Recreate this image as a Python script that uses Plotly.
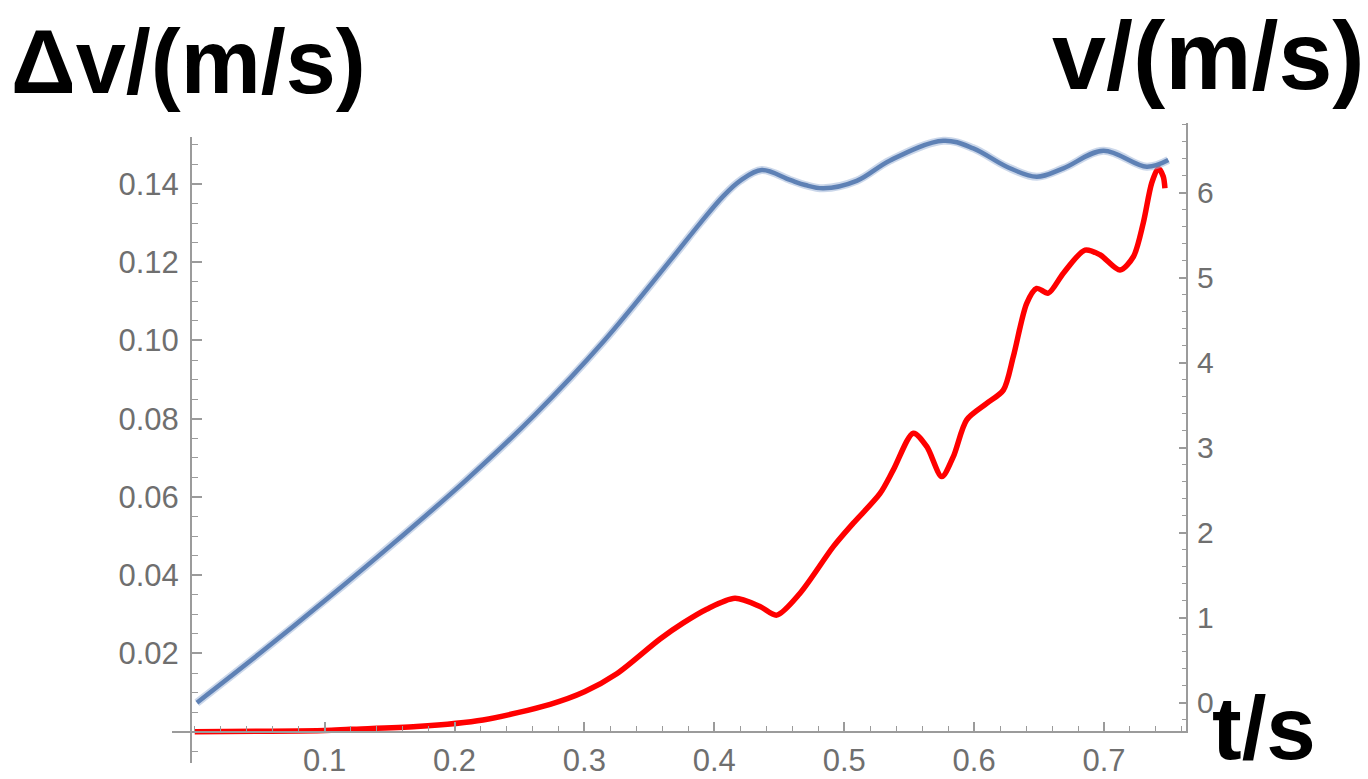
import plotly.graph_objects as go

# time samples and velocity v (right axis, m/s)
t_v = [0.0017, 0.0494, 0.1024, 0.1554, 0.2085, 0.2615, 0.3145, 0.3675, 0.3890,
       0.4069, 0.4198, 0.4365, 0.4583, 0.4700, 0.4839, 0.5096, 0.5353, 0.5763, 0.5994,
       0.6251, 0.6482, 0.6687, 0.6995, 0.7329, 0.7495]
v_vals = [0.0, 0.572, 1.229, 1.907, 2.613, 3.382, 4.246, 5.230, 5.640,
          5.960, 6.140, 6.267, 6.150, 6.090, 6.052, 6.140, 6.380, 6.612, 6.522,
          6.306, 6.188, 6.287, 6.494, 6.306, 6.385]

# time samples and velocity difference Δv (left axis, m/s)
t_dv = [0.0, 0.05, 0.10, 0.1196, 0.1709, 0.2219, 0.2736, 0.30, 0.3249, 0.3582,
        0.3761, 0.3941, 0.4159, 0.4352, 0.4480, 0.4660, 0.4916, 0.5070, 0.5276,
        0.5378, 0.5532, 0.5635, 0.5751, 0.5840, 0.5943, 0.6097, 0.6225, 0.6302,
        0.6405, 0.6482, 0.6571, 0.6687, 0.6854, 0.6969, 0.7123, 0.7226, 0.7302,
        0.7367, 0.7418, 0.7456, 0.7469]
dv_vals = [0.0, 0.0001, 0.0003, 0.0006, 0.0013, 0.0030, 0.0070, 0.0102, 0.0148, 0.0237,
           0.0278, 0.0313, 0.0341, 0.0320, 0.0298, 0.0354, 0.0473, 0.0533, 0.0609,
           0.0669, 0.0763, 0.0729, 0.0652, 0.0703, 0.0797, 0.0839, 0.0873, 0.0959,
           0.1095, 0.1133, 0.1121, 0.1172, 0.1231, 0.1219, 0.1180, 0.1214, 0.1300,
           0.1402, 0.1440, 0.1419, 0.1389]

x_ticks = [0.1, 0.2, 0.3, 0.4, 0.5, 0.6, 0.7]
x_labels = ["0.1", "0.2", "0.3", "0.4", "0.5", "0.6", "0.7"]
dv_ticks = [0.02, 0.04, 0.06, 0.08, 0.10, 0.12, 0.14]
dv_labels = ["0.02", "0.04", "0.06", "0.08", "0.10", "0.12", "0.14"]
v_ticks = [0, 1, 2, 3, 4, 5, 6]
v_labels = ["0", "1", "2", "3", "4", "5", "6"]

AXIS = "#9b9b9b"
LABEL = "#6f6f6f"
FONT = "Liberation Sans, Arial, sans-serif"

W, H = 1368, 779
ML, MR, MT, MB = 172, 181, 123, 16
PW, PH = W - ML - MR, H - MT - MB


def px_x(px):
    return (px - ML) / PW


def px_y(py):
    return (H - MB - py) / PH


fig = go.Figure()

# velocity curve with a soft halo
fig.add_trace(go.Scatter(x=t_v, y=v_vals, xaxis="x", yaxis="y2", mode="lines",
                         line=dict(color="rgba(160,182,216,0.55)", width=8, shape="spline"),
                         hoverinfo="skip", showlegend=False))
fig.add_trace(go.Scatter(x=t_v, y=v_vals, xaxis="x", yaxis="y2", mode="lines",
                         line=dict(color="#5E81B5", width=4.5, shape="spline"),
                         showlegend=False))
# velocity difference curve
fig.add_trace(go.Scatter(x=t_dv, y=dv_vals, xaxis="x", yaxis="y", mode="lines",
                         line=dict(color="#ff0000", width=5.5, shape="spline", smoothing=0.8),
                         showlegend=False))

tickfont_common = dict(family=FONT, color=LABEL)

fig.update_layout(
    width=W, height=H,
    margin=dict(l=ML, r=MR, t=MT, b=MB, autoexpand=False),
    paper_bgcolor="white", plot_bgcolor="rgba(0,0,0,0)",
    xaxis=dict(
        range=[-0.0175, 0.7639], anchor="free", position=px_y(731.7), automargin=False,
        showline=True, linecolor=AXIS, linewidth=2, zeroline=False, showgrid=False,
        ticks="inside", ticklen=9, tickwidth=1.5, tickcolor=AXIS,
        tickvals=x_ticks, ticktext=x_labels, tickfont=dict(size=31, **tickfont_common),
        ticklabelstandoff=1,
        minor=dict(ticks="inside", dtick=0.02, tick0=0, ticklen=5, tickwidth=1, tickcolor=AXIS,
                   showgrid=False),
    ),
    yaxis=dict(
        domain=[0, px_y(137)], range=[-0.0080, 0.1520], anchor="free", position=px_x(191),
        automargin=False,
        side="left", showline=True, linecolor=AXIS, linewidth=2, zeroline=False, showgrid=False,
        ticks="inside", ticklen=10, tickwidth=1.5, tickcolor=AXIS,
        tickvals=dv_ticks, ticktext=dv_labels, tickfont=dict(size=31, **tickfont_common),
        ticklabelstandoff=5,
        minor=dict(ticks="inside", dtick=0.005, tick0=0, ticklen=6, tickwidth=1, tickcolor=AXIS,
                   showgrid=False),
    ),
    yaxis2=dict(
        domain=[px_y(733), 1], range=[-0.356, 6.820], anchor="free", position=1.0,
        automargin=False,
        side="right", showline=True, linecolor=AXIS, linewidth=2, zeroline=False, showgrid=False,
        ticks="inside", ticklen=7, tickwidth=1.5, tickcolor=AXIS,
        tickvals=v_ticks, ticktext=v_labels, tickfont=dict(size=30, **tickfont_common),
        ticklabelstandoff=3,
        minor=dict(ticks="inside", dtick=0.2, tick0=0, ticklen=4, tickwidth=1, tickcolor=AXIS,
                   showgrid=False),
    ),
    annotations=[
        dict(text="<b>Δv/(m/s)</b>", xref="paper", yref="paper",
             x=px_x(188), y=px_y(62), xanchor="center", yanchor="middle", showarrow=False,
             font=dict(family=FONT, size=90, color="black")),
        dict(text="<b>v/(m/s)</b>", xref="paper", yref="paper",
             x=px_x(1208), y=px_y(55), xanchor="center", yanchor="middle", showarrow=False,
             font=dict(family=FONT, size=97, color="black")),
        dict(text="<b>t/s</b>", xref="paper", yref="paper",
             x=px_x(1264), y=px_y(728), xanchor="center", yanchor="middle", showarrow=False,
             font=dict(family=FONT, size=89, color="black")),
    ],
)

fig.write_html("out.html")
